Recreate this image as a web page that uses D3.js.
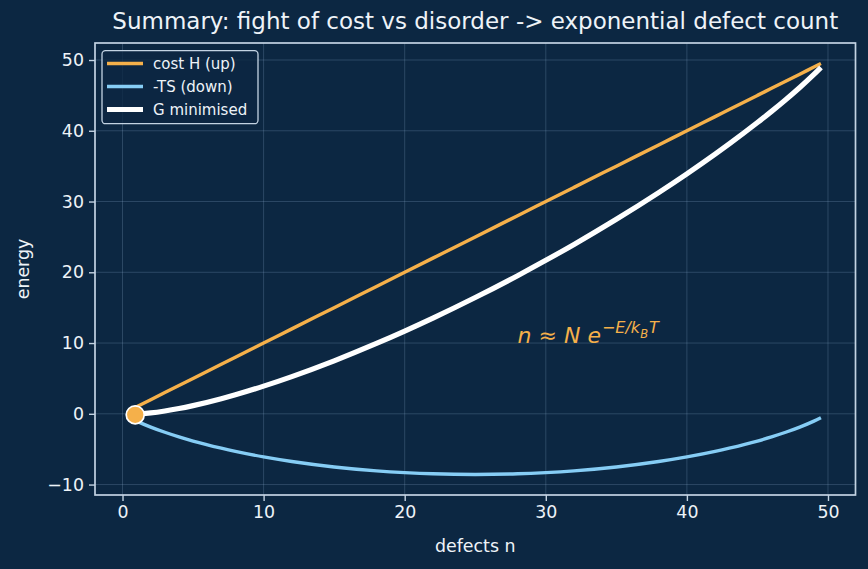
<!DOCTYPE html>
<html>
<head>
<meta charset="utf-8">
<script src="https://cdn.jsdelivr.net/npm/d3@7"></script>
<style>
  html, body { margin: 0; padding: 0; background: #0c2742; }
  svg { display: block; font-family: "DejaVu Sans", sans-serif; }
</style>
</head>
<body>
<svg id="chart" width="868" height="569"></svg>
<script>
// values
var nValues = [0.5, 1, 2, 3, 4, 5, 7, 8, 10, 12, 15, 18, 20, 22, 25, 28, 30, 32, 35, 38, 40, 42, 43, 45, 46, 47, 48, 49, 49.5];
var costH = [0.5, 1, 2, 3, 4, 5, 7, 8, 10, 12, 15, 18, 20, 22, 25, 28, 30, 32, 35, 38, 40, 42, 43, 45, 46, 47, 48, 49, 49.5];
var minusTS = [-0.55, -1.03, -1.88, -2.61, -3.26, -3.85, -4.86, -5.31, -6.09, -6.74, -7.51, -8.06, -8.31, -8.48, -8.57,
               -8.48, -8.31, -8.06, -7.51, -6.74, -6.09, -5.31, -4.86, -3.85, -3.26, -2.61, -1.88, -1.03, -0.55];
var gValues = [-0.05, -0.03, 0.12, 0.39, 0.74, 1.16, 2.14, 2.69, 3.91, 5.26, 7.49, 9.94, 11.69, 13.52, 16.43,
               19.52, 21.69, 23.94, 27.49, 31.26, 33.91, 36.69, 38.14, 41.16, 42.74, 44.39, 46.12, 47.97, 48.95];
var minPoint = { n: 0.9, g: -0.15 };
var xTicks = [0, 10, 20, 30, 40, 50];
var yTicks = [-10, 0, 10, 20, 30, 40, 50];
var seriesNames = ["cost H (up)", "-TS (down)", "G minimised"];

var bg = "#0c2742";
var spineColor = "#c3d3e3";
var textColor = "#eef3f8";
var orange = "#f5b04a";
var blue = "#86cdf5";

var svg = d3.select("#chart");
svg.append("rect").attr("width", 868).attr("height", 569).attr("fill", bg);

var plotLeft = 95, plotRight = 855.5, plotTop = 43, plotBottom = 495;

var x = d3.scaleLinear().domain([-1.95, 51.95]).range([plotLeft, plotRight]);
var y = d3.scaleLinear().domain([-11.476, 52.404]).range([plotBottom, plotTop]);

// grid
var grid = svg.append("g");
grid.selectAll(".gx").data(xTicks).enter().append("line")
    .attr("x1", d => x(d)).attr("x2", d => x(d))
    .attr("y1", plotTop).attr("y2", plotBottom)
    .attr("stroke", "#8fb0d0").attr("stroke-opacity", 0.28).attr("stroke-width", 0.9);
grid.selectAll(".gy").data(yTicks).enter().append("line")
    .attr("x1", plotLeft).attr("x2", plotRight)
    .attr("y1", d => y(d)).attr("y2", d => y(d))
    .attr("stroke", "#8fb0d0").attr("stroke-opacity", 0.28).attr("stroke-width", 0.9);

// axes
var xAxis = svg.append("g")
    .attr("transform", `translate(0,${plotBottom})`)
    .call(d3.axisBottom(x).tickValues(xTicks).tickSize(6).tickPadding(5).tickFormat(d3.format("d")));
var yAxis = svg.append("g")
    .attr("transform", `translate(${plotLeft},0)`)
    .call(d3.axisLeft(y).tickValues(yTicks).tickSize(6).tickPadding(5)
        .tickFormat(d => d < 0 ? "\u2212" + Math.abs(d) : d));

[xAxis, yAxis].forEach(function (a) {
    a.select(".domain").remove();
    a.selectAll(".tick line").attr("stroke", spineColor).attr("stroke-width", 1.4);
    a.selectAll(".tick text").attr("fill", textColor)
        .style("font-size", "17.4px").style("font-family", "DejaVu Sans");
});

// spines
svg.append("rect")
    .attr("x", plotLeft).attr("y", plotTop)
    .attr("width", plotRight - plotLeft).attr("height", plotBottom - plotTop)
    .attr("fill", "none").attr("stroke", spineColor).attr("stroke-width", 1.7);

// lines
var data = nValues.map(function (n, i) {
    return { n: n, h: costH[i], ts: minusTS[i], g: gValues[i] };
});

var plot = svg.append("g");
function lineFor(key) {
    return d3.line().x(d => x(d.n)).y(d => y(d[key])).curve(d3.curveMonotoneX);
}
plot.append("path").datum(data).attr("d", lineFor("h"))
    .attr("fill", "none").attr("stroke", orange).attr("stroke-width", 3.4);
plot.append("path").datum(data).attr("d", lineFor("ts"))
    .attr("fill", "none").attr("stroke", blue).attr("stroke-width", 3.4);
plot.append("path").datum(data).attr("d", lineFor("g"))
    .attr("fill", "none").attr("stroke", "#ffffff").attr("stroke-width", 5.2);

plot.append("circle")
    .attr("cx", x(minPoint.n)).attr("cy", y(minPoint.g)).attr("r", 9)
    .attr("fill", orange).attr("stroke", "#ffffff").attr("stroke-width", 1.7);

// formula annotation
var ann = svg.append("text")
    .attr("x", x(28)).attr("y", y(10))
    .attr("fill", orange)
    .style("font-size", "22px");
ann.append("tspan").style("font-style", "italic").text("n");
ann.append("tspan").text(" \u2248 ");
ann.append("tspan").style("font-style", "italic").text("N");
ann.append("tspan").style("font-style", "italic").text(" e");
ann.append("tspan").attr("dy", -10).attr("dx", 1).style("font-size", "16px").text("\u2212");
ann.append("tspan").style("font-size", "16px").style("font-style", "italic").text("E/k");
ann.append("tspan").attr("dy", 5).style("font-size", "11.5px").style("font-style", "italic").text("B");
ann.append("tspan").attr("dy", -5).attr("dx", 1).style("font-size", "16px").style("font-style", "italic").text("T");

// title and labels
svg.append("text")
    .attr("x", (plotLeft + plotRight) / 2).attr("y", 28.5)
    .attr("text-anchor", "middle").attr("fill", textColor)
    .style("font-size", "23px")
    .text("Summary: fight of cost vs disorder -> exponential defect count");

svg.append("text")
    .attr("x", (plotLeft + plotRight) / 2).attr("y", 552)
    .attr("text-anchor", "middle").attr("fill", textColor)
    .style("font-size", "17.4px")
    .text("defects n");

svg.append("text")
    .attr("transform", `translate(29,${(plotTop + plotBottom) / 2}) rotate(-90)`)
    .attr("text-anchor", "middle").attr("fill", textColor)
    .style("font-size", "17.4px")
    .text("energy");

// legend
var legend = svg.append("g");
legend.append("rect")
    .attr("x", 102).attr("y", 50.7).attr("width", 156).attr("height", 73)
    .attr("rx", 3.5)
    .attr("fill", bg).attr("fill-opacity", 0.8)
    .attr("stroke", spineColor).attr("stroke-width", 1.3);
var legendColors = [orange, blue, "#ffffff"];
var legendWidths = [3.4, 3.4, 5.2];
var items = legend.selectAll(".item").data(seriesNames).enter().append("g")
    .attr("transform", (d, i) => `translate(0,${63.5 + i * 23})`);
items.append("line")
    .attr("x1", 107).attr("x2", 143)
    .attr("stroke", (d, i) => legendColors[i])
    .attr("stroke-width", (d, i) => legendWidths[i]);
items.append("text")
    .attr("x", 153).attr("y", 5.2)
    .attr("fill", textColor)
    .style("font-size", "15px")
    .text(d => d);
</script>
</body>
</html>
